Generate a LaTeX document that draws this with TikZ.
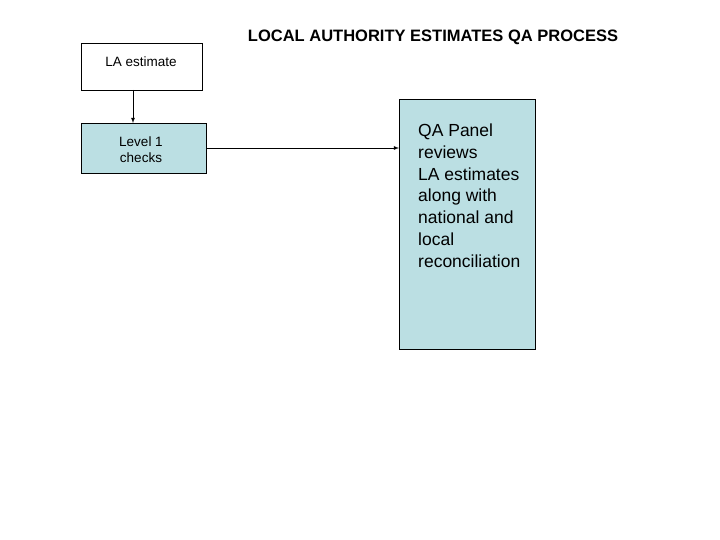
\documentclass[tikz,border=0pt]{standalone}
\usepackage{fontspec}
\setmainfont{Liberation Sans}
\begin{document}
\begin{tikzpicture}[x=1pt,y=-1pt,
  box/.style={draw,inner sep=0pt,anchor=north west},
  arr/.style={-latex,thick}]
\useasboundingbox (0,0) rectangle (720,540);
\node[anchor=base] (title) at (433,42) {\bfseries\fontsize{16.5}{19}\selectfont LOCAL AUTHORITY ESTIMATES QA PROCESS};
\node[box,minimum width=121pt,minimum height=47pt] (la) at (81,43) {};
\node[font=\fontsize{13.5}{16}\selectfont] at (141,62) {LA estimate};
\node[box,minimum width=125pt,minimum height=50pt,fill={rgb,255:red,187;green,223;blue,227}] (l1) at (81,123) {};
\node[align=center,font=\fontsize{13.5}{16}\selectfont] at (141,150) {Level 1\\checks};
\node[box,minimum width=136pt,minimum height=250pt,fill={rgb,255:red,187;green,223;blue,227}] (qa) at (399,99) {};
\node[anchor=north west,align=left,font=\fontsize{17.5}{21.7}\selectfont,inner sep=0pt] at (418,124) {QA Panel\\reviews\\LA estimates\\along with\\national and\\local\\reconciliation};
\draw[arr] (133,90) -- (133,123);
\draw[arr] (206,148) -- (399,148);
\end{tikzpicture}
\end{document}
